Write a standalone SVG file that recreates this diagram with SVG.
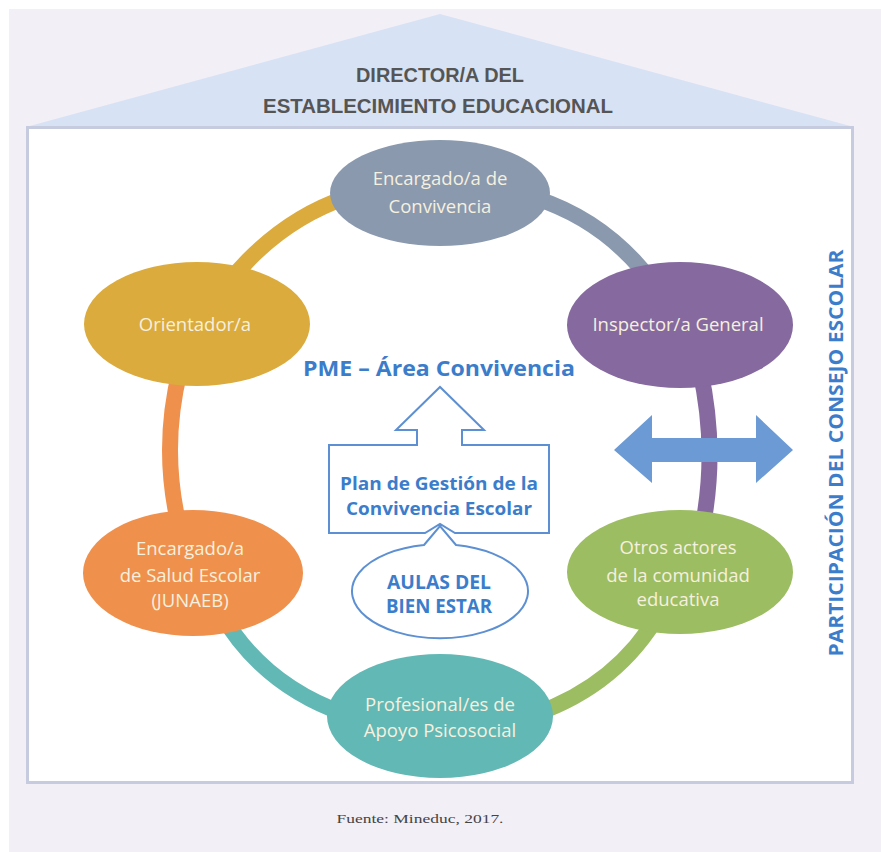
<svg xmlns="http://www.w3.org/2000/svg" width="881" height="852" viewBox="0 0 881 852">
<style>
.nt{font-family:"Open Sans","Liberation Sans",sans-serif;font-size:18.5px;fill:#f6f0de;text-anchor:middle}
.bl{font-family:"Open Sans","Liberation Sans",sans-serif;font-weight:bold;fill:#3b7dcb;text-anchor:middle}
.arc{fill:none;stroke-width:16}
</style>
<rect x="0" y="0" width="881" height="852" fill="#ffffff"/>
<rect x="9" y="9" width="872" height="843" fill="#f3eff7"/>
<g id="house">
<polygon points="26,127 440,14 854,127" fill="#d7e3f4"/>
<rect x="27.5" y="127.5" width="825" height="655" fill="#ffffff" stroke="#c6cbe0" stroke-width="3"/>
<text x="440" y="82" font-family="Liberation Sans Narrow,Liberation Sans,sans-serif" font-weight="bold" font-size="20" fill="#555555" text-anchor="middle" textLength="168" lengthAdjust="spacingAndGlyphs">DIRECTOR/A DEL</text>
<text x="438" y="113" font-family="Liberation Sans Narrow,Liberation Sans,sans-serif" font-weight="bold" font-size="20" fill="#555555" text-anchor="middle" textLength="350" lengthAdjust="spacingAndGlyphs">ESTABLECIMIENTO EDUCACIONAL</text>
</g>
<g id="connectors">
<path class="arc" stroke="#dbab3e" d="M345 198 Q275 222 222 290"/>
<path class="arc" stroke="#8a99ae" d="M535 198 Q610 222 658 290"/>
<path class="arc" stroke="#85699f" d="M700 370 Q718 450 702 530"/>
<path class="arc" stroke="#f0904d" d="M180 370 Q160 450 180 530"/>
<path class="arc" stroke="#62b8b5" d="M220 612 Q262 685 345 714"/>
<path class="arc" stroke="#9cbd62" d="M660 612 Q618 685 535 714"/>
</g>
<g id="n-convivencia">
<ellipse cx="440" cy="193" rx="110" ry="53" fill="#8a99ae"/>
<text class="nt" x="440" y="185">Encargado/a de</text>
<text class="nt" x="440" y="213">Convivencia</text>
</g>
<g id="n-orientador">
<ellipse cx="197" cy="324" rx="113" ry="62" fill="#dbab3e"/>
<text class="nt" x="195" y="331">Orientador/a</text>
</g>
<g id="n-inspector">
<ellipse cx="680" cy="325" rx="113" ry="63" fill="#85699f"/>
<text class="nt" x="678" y="331">Inspector/a General</text>
</g>
<g id="n-salud">
<ellipse cx="193" cy="573" rx="110" ry="63" fill="#f0904d"/>
<text class="nt" x="190" y="555">Encargado/a</text>
<text class="nt" x="190" y="582">de Salud Escolar</text>
<text class="nt" x="190" y="607">(JUNAEB)</text>
</g>
<g id="n-otros">
<ellipse cx="680" cy="572" rx="113" ry="62" fill="#9cbd62"/>
<text class="nt" x="678" y="554">Otros actores</text>
<text class="nt" x="678" y="582">de la comunidad</text>
<text class="nt" x="678" y="606">educativa</text>
</g>
<g id="n-profesional">
<ellipse cx="440" cy="716" rx="113" ry="62" fill="#62b8b5"/>
<text class="nt" x="440" y="711">Profesional/es de</text>
<text class="nt" x="440" y="737">Apoyo Psicosocial</text>
</g>
<g id="pme">
<text class="bl" x="439" y="376" font-size="21" textLength="272" lengthAdjust="spacingAndGlyphs">PME – Área Convivencia</text>
</g>
<g id="plan">
<path d="M329 445 H417 V430 H396 L440 387 L484 430 H462 V445 H549 V533 H455 L440 524 L425 533 H329 Z" fill="#ffffff" stroke="#5d90d2" stroke-width="2"/>
<text class="bl" x="439" y="490" font-size="17.5" textLength="198" lengthAdjust="spacingAndGlyphs">Plan de Gestión de la</text>
<text class="bl" x="439" y="515" font-size="17.5" textLength="186" lengthAdjust="spacingAndGlyphs">Convivencia Escolar</text>
</g>
<g id="aulas">
<path d="M424 545 L440 526 L456 545 A88 47 0 1 1 424 545 Z" fill="#ffffff" stroke="#5d90d2" stroke-width="2"/>
<text class="bl" x="439" y="589" font-size="19" textLength="104" lengthAdjust="spacingAndGlyphs">AULAS DEL</text>
<text class="bl" x="439" y="613" font-size="19" textLength="106" lengthAdjust="spacingAndGlyphs">BIEN ESTAR</text>
</g>
<g id="double-arrow">
<polygon points="614,450 652,415 652,438 756,438 756,415 793,450 756,483 756,462 652,462 652,483" fill="#6b9ad5"/>
</g>
<g id="consejo">
<text class="bl" x="0" y="0" font-size="20" transform="translate(843,453) rotate(-90)" textLength="407" lengthAdjust="spacingAndGlyphs">PARTICIPACIÓN DEL CONSEJO ESCOLAR</text>
</g>
<text x="420" y="823" font-family="Liberation Serif,serif" font-size="12" fill="#444444" text-anchor="middle" textLength="167" lengthAdjust="spacingAndGlyphs">Fuente: Mineduc, 2017.</text>
</svg>
